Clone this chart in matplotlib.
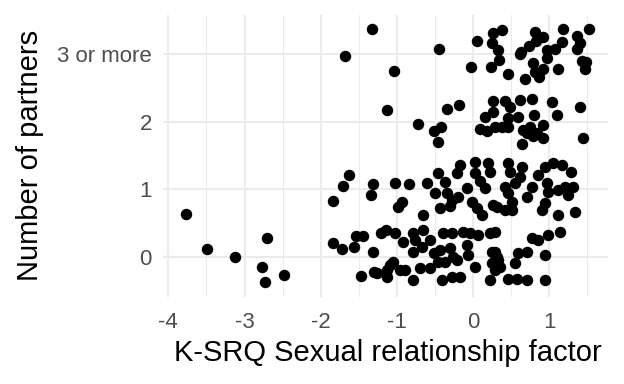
import matplotlib

matplotlib.use("Agg")
import matplotlib.pyplot as plt

# jittered points, grouped by partner category
x_three = [-1.33, -1.68, -1.04, -0.45, 0.05, -0.03, 0.24, 0.26, 0.38, 0.25,
           0.33, 0.34, 0.46, 0.62, 0.68, 0.73, 0.83, 0.81, 0.92, 0.97,
           1.08, 1.17, 1.18, 1.36, 1.40, 1.36, 1.52, 0.79, 0.97, 0.92,
           0.81, 0.87, 1.12, 1.43, 1.48, 1.47, 0.63]
y_three = [3.37, 2.97, 2.75, 3.08, 3.20, 2.81, 2.81, 3.31, 3.36, 3.17,
           3.06, 2.91, 2.71, 3.00, 2.63, 3.12, 3.20, 3.33, 3.25, 3.06,
           3.08, 3.18, 3.37, 3.27, 3.17, 3.08, 3.37, 2.87, 2.94, 2.78,
           2.74, 2.66, 2.78, 2.90, 2.88, 2.78, 3.03]

x_two = [-1.13, -0.34, -0.18, 0.26, 0.42, 0.62, 0.77, 1.04, 1.40, 0.16,
         0.26, 0.46, 0.59, 0.80, 1.10, -0.72, -0.52, -0.42, -0.46, 0.09,
         0.18, 0.29, 0.38, 0.46, 0.66, 0.75, 0.84, 0.92, 0.71, 0.79,
         0.92, 0.64, 1.44, 0.49]
y_two = [2.17, 2.19, 2.25, 2.31, 2.31, 2.32, 2.34, 2.29, 2.22, 2.07,
         2.14, 2.05, 2.07, 2.10, 2.10, 1.97, 1.86, 1.92, 1.70, 1.89,
         1.86, 1.92, 1.92, 1.92, 1.88, 1.92, 1.84, 1.95, 1.83, 1.79,
         1.76, 1.67, 1.76, 2.22]

x_one = [-1.63, -1.71, -1.84, -1.31, -1.34, -1.02, -0.84, -0.94, -0.98, -0.66,
         -0.60, -0.46, -0.37, -0.50, -0.34, -0.28, -0.43, -0.30, -0.20, -0.17,
         -0.21, -0.08, 0.03, 0.03, 0.09, 0.20, 0.22, 0.16, -0.01, 0.05,
         0.12, 0.26, 0.31, 0.46, 0.49, 0.64, 0.62, 0.55, 0.42, 0.46,
         0.51, 0.42, 0.51, 0.71, 0.77, 0.85, 0.94, 1.05, 1.17, 1.29,
         0.97, 0.98, 1.12, 1.21, 1.31, 1.25, 0.94, 0.91, 1.12, 1.34]
y_one = [1.21, 1.05, 0.83, 1.08, 0.91, 1.09, 1.08, 0.81, 0.74, 0.62,
         1.09, 1.24, 1.11, 0.94, 0.94, 0.84, 0.72, 0.75, 0.88, 1.36,
         1.24, 1.02, 1.40, 1.24, 1.12, 1.39, 1.25, 1.02, 0.81, 0.72,
         0.62, 0.77, 0.74, 1.39, 1.25, 1.33, 1.18, 1.09, 1.03, 0.94,
         0.81, 0.69, 0.69, 0.88, 1.03, 1.21, 1.33, 1.39, 1.36, 1.25,
         1.09, 0.96, 0.99, 1.03, 1.03, 0.91, 0.80, 0.69, 0.62, 0.66]

x_zero = [-3.77, -3.49, -3.12, -2.77, -2.70, -2.73, -2.48, -1.84, -1.72, -1.56,
          -1.54, -1.44, -1.31, -1.21, -1.15, -1.47, -1.30, -1.26, -1.13, -1.09,
          -1.02, -0.92, -0.79, -0.66, -0.76, -0.79, -0.67, -0.56, -0.52, -0.46,
          -0.39, -0.28, -0.30, -0.13, -0.04, 0.07, -0.08, -0.07, -0.21, -0.37,
          0.03, -1.05, -1.13, -0.96, -0.79, -0.70, -0.41, -0.28, -0.17, 0.22,
          0.25, 0.25, 0.22, 0.31, -0.89, -0.56, -0.43, -0.26, 0.35, 0.29,
          0.77, 0.85, 0.98, 1.14, 0.29, 0.33, 0.59, 0.71, 0.55, 0.94,
          0.46, 0.58, 0.71, 0.94, 0.29]
y_zero = [0.63, 0.11, 0.00, -0.15, 0.28, -0.37, -0.27, 0.20, 0.11, 0.14,
          0.31, 0.31, 0.07, 0.35, 0.40, -0.29, -0.23, -0.24, -0.30, -0.12,
          0.35, 0.22, 0.35, 0.40, 0.25, 0.07, 0.14, 0.25, 0.05, -0.08,
          0.35, 0.35, 0.13, 0.37, 0.35, 0.32, 0.17, 0.03, -0.05, -0.08,
          -0.15, -0.08, -0.20, -0.20, -0.35, -0.17, -0.35, -0.30, -0.30, 0.35,
          0.07, -0.09, -0.35, 0.00, -0.20, -0.17, 0.10, 0.00, -0.15, 0.37,
          0.28, 0.25, 0.32, 0.37, 0.07, -0.05, 0.05, 0.07, -0.09, 0.03,
          -0.33, -0.33, -0.35, -0.35, -0.20]

x_major = [-4, -3, -2, -1, 0, 1]
x_minor = [-3.5, -2.5, -1.5, -0.5, 0.5, 1.5]
y_ticks = [0, 1, 2, 3]
y_labels = ["0", "1", "2", "3 or more"]

plt.rcParams["font.family"] = ["Liberation Sans", "DejaVu Sans"]

fig = plt.figure(figsize=(6.24, 3.84), dpi=100)
ax = fig.add_axes([163 / 624, 1 - 296.5 / 384, 445 / 624, 282 / 384])

xs = x_three + x_two + x_one + x_zero
ys = y_three + y_two + y_one + y_zero
ax.scatter(xs, ys, s=68, color="black", linewidths=0, zorder=3)

ax.set_xlim(-4.07, 1.77)
ax.set_ylim(-0.59, 3.59)
for v in x_major:
    ax.axvline(v, color="#EBEBEB", linewidth=1.45, zorder=1)
for v in x_minor:
    ax.axvline(v, color="#EBEBEB", linewidth=0.75, zorder=1)
for v in y_ticks:
    ax.axhline(v, color="#EBEBEB", linewidth=1.45, zorder=1)

ax.set_xticks(x_major, [f"{v}" for v in x_major])
ax.set_yticks(y_ticks, y_labels)
ax.tick_params(length=0, labelsize=16, labelcolor="#4D4D4D")
ax.tick_params(axis="x", pad=11)
ax.tick_params(axis="y", pad=8)
for spine in ax.spines.values():
    spine.set_visible(False)

fig.text(388 / 624, 1 - 353 / 384, "K-SRQ Sexual relationship factor",
         ha="center", va="center", fontsize=21, color="black")
fig.text(30 / 624, 1 - 155 / 384, "Number of partners", rotation=90,
         ha="center", va="center", fontsize=21, color="black")

fig.savefig("out.png", dpi=100, facecolor="white")
